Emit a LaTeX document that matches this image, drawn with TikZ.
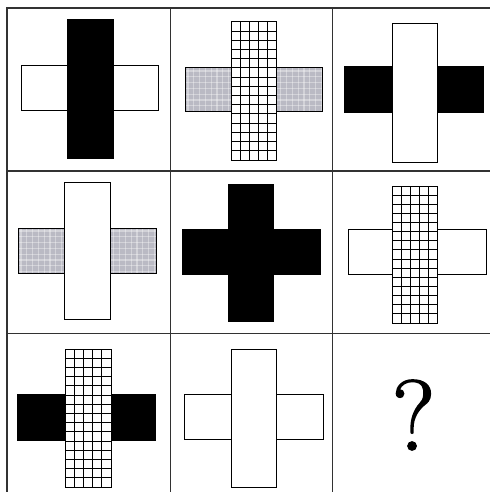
\documentclass[tikz,border=0pt]{standalone}
\usepackage{fontspec}
\newfontfamily\qfont{Latin Modern Roman}[FakeBold=1.5]
\begin{document}
\begin{tikzpicture}[x=1pt,y=-1pt,
  cellline/.style={draw={rgb,255:red,50;green,50;blue,50},line width=1.5pt},
  outline/.style={draw=black,line width=1pt},
  gline/.style={draw=black,line width=1pt},
  gtex/.style={draw=white,line width=1.2pt,opacity=0.35},
  blackfill/.style={fill=black},
  whitefill/.style={fill=white},
  qmark/.style={font=\qfont\fontsize{100}{100}\selectfont,inner sep=0pt}]
\definecolor{graybg}{RGB}{186,186,196}
\useasboundingbox (0,0) rectangle (490,492);
\fill[white] (0,0) rectangle (490,492);
% helpers
\newcommand\plainbar[5]{\draw[outline,#5] (#1,#2) rectangle (#3,#4);}
\newcommand\gridbar[4]{%
  \fill[white] (#1,#2) rectangle (#3,#4);
  \foreach \i in {1,...,4} \draw[gline] ({#1+\i*(#3-#1)/5},#2) -- ({#1+\i*(#3-#1)/5},#4);
  \foreach \j in {1,...,14} \draw[gline] (#1,{#2+\j*(#4-#2)/15}) -- (#3,{#2+\j*(#4-#2)/15});
  \draw[outline] (#1,#2) rectangle (#3,#4);}
\newcommand\graybar[4]{%
  \begin{scope}
  \clip (#1,#2) rectangle (#3,#4);
  \fill[graybg] (#1,#2) rectangle (#3,#4);
  \foreach \k in {0,...,24} \draw[gtex] ({#1+3+\k*5.8},#2) -- ({#1+3+\k*5.8},#4);
  \foreach \k in {0,...,24} \draw[gtex] (#1,{#2+3+\k*5.8}) -- (#3,{#2+3+\k*5.8});
  \end{scope}
  \draw[outline] (#1,#2) rectangle (#3,#4);}
% cell 1
\plainbar{21}{66}{158}{111}{whitefill}
\plainbar{67}{20}{113}{158}{blackfill}
% cell 2
\graybar{185}{68}{322}{112}
\gridbar{231}{22}{276}{160}
% cell 3
\plainbar{344}{67}{483}{113}{blackfill}
\plainbar{392}{24}{437}{162}{whitefill}
% cell 4
\graybar{18}{228}{156}{273}
\plainbar{64}{182}{110}{319}{whitefill}
% cell 5
\fill[black] (182,229) rectangle (321,275);
\fill[black] (228,184) rectangle (274,322);
% cell 6
\plainbar{348}{229}{486}{274}{whitefill}
\gridbar{392}{186}{437}{323}
% cell 7
\plainbar{17}{394}{155}{440}{blackfill}
\gridbar{65}{349}{111}{487}
% cell 8
\plainbar{184}{394}{323}{439}{whitefill}
\plainbar{231}{349}{276}{487}{whitefill}
% cell 9
\node[qmark] (q) at (413.5,415) {?};
% grid lines
\draw[cellline] (7,492) -- (7,8) -- (490,8);
\draw[cellline] (170.5,8) -- (170.5,492);
\draw[cellline] (332.5,8) -- (332.5,492);
\draw[cellline] (7,171) -- (490,171);
\draw[cellline] (7,333.5) -- (490,333.5);
\end{tikzpicture}
\end{document}
